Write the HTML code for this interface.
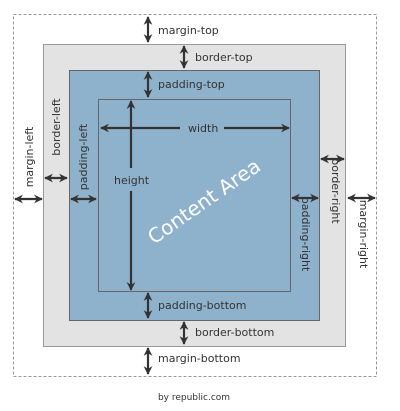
<!DOCTYPE html>
<html><head><style>
html,body{margin:0;padding:0;background:#fff;width:400px;height:411px;overflow:hidden}
text{font-family:"DejaVu Sans","Liberation Sans",sans-serif;font-size:11px;fill:#333}
</style></head><body>
<svg width="400" height="411" viewBox="0 0 400 411" xmlns="http://www.w3.org/2000/svg">
<defs>
<marker id="a" viewBox="0 0 10 10" refX="9" refY="5" markerWidth="4" markerHeight="4" orient="auto-start-reverse"><path d="M0,0L10,5L0,10L3,5z" fill="#333"/></marker>
</defs>
<rect x="13.5" y="14.5" width="363" height="362" fill="none" stroke="#999" stroke-dasharray="3,2"/>
<rect x="43.5" y="44.5" width="302" height="302" fill="#e3e3e3" stroke="#999"/>
<rect x="69.5" y="70.5" width="250" height="250" fill="#8fb2cc" stroke="#666"/>
<rect x="98.5" y="99.5" width="192" height="192" fill="#8fb2cc" stroke="#666"/>
<g stroke="#333" stroke-width="2.2" fill="none">
<line x1="148" y1="17" x2="148" y2="42" marker-start="url(#a)" marker-end="url(#a)"/>
<line x1="184" y1="46" x2="184" y2="68" marker-start="url(#a)" marker-end="url(#a)"/>
<line x1="148" y1="72" x2="148" y2="97" marker-start="url(#a)" marker-end="url(#a)"/>
<line x1="148" y1="293" x2="148" y2="318" marker-start="url(#a)" marker-end="url(#a)"/>
<line x1="184" y1="322" x2="184" y2="344" marker-start="url(#a)" marker-end="url(#a)"/>
<line x1="148" y1="348" x2="148" y2="374" marker-start="url(#a)" marker-end="url(#a)"/>
<line x1="15" y1="199" x2="42" y2="199" marker-start="url(#a)" marker-end="url(#a)"/>
<line x1="45" y1="178" x2="67" y2="178" marker-start="url(#a)" marker-end="url(#a)"/>
<line x1="71" y1="199" x2="96" y2="199" marker-start="url(#a)" marker-end="url(#a)"/>
<line x1="292" y1="198" x2="318" y2="198" marker-start="url(#a)" marker-end="url(#a)"/>
<line x1="321" y1="159" x2="344" y2="159" marker-start="url(#a)" marker-end="url(#a)"/>
<line x1="348" y1="198" x2="375" y2="198" marker-start="url(#a)" marker-end="url(#a)"/>
<line x1="101" y1="128" x2="180" y2="128" marker-start="url(#a)"/>
<line x1="224" y1="128" x2="289" y2="128" marker-end="url(#a)"/>
<line x1="131" y1="101" x2="131" y2="168" marker-start="url(#a)"/>
<line x1="131" y1="191" x2="131" y2="290" marker-end="url(#a)"/>
</g>
<text x="158" y="34">margin-top</text>
<text x="195" y="61">border-top</text>
<text x="158" y="88">padding-top</text>
<text x="188" y="132">width</text>
<text x="114" y="184">height</text>
<text x="158" y="309">padding-bottom</text>
<text x="195" y="336">border-bottom</text>
<text x="158" y="362">margin-bottom</text>
<text transform="translate(33,157) rotate(-90)" text-anchor="middle">margin-left</text>
<text transform="translate(60,127) rotate(-90)" text-anchor="middle">border-left</text>
<text transform="translate(87,157) rotate(-90)" text-anchor="middle">padding-left</text>
<text transform="translate(302,234) rotate(90)" text-anchor="middle">padding-right</text>
<text transform="translate(332,191) rotate(90)" text-anchor="middle">border-right</text>
<text transform="translate(360,234) rotate(90)" text-anchor="middle">margin-right</text>
<text transform="translate(208,207) rotate(-35)" text-anchor="middle" style="font-size:20px;fill:#fff">Content Area</text>
<text x="194" y="400" text-anchor="middle" style="font-size:9px">by republic.com</text>
</svg>
</body></html>
